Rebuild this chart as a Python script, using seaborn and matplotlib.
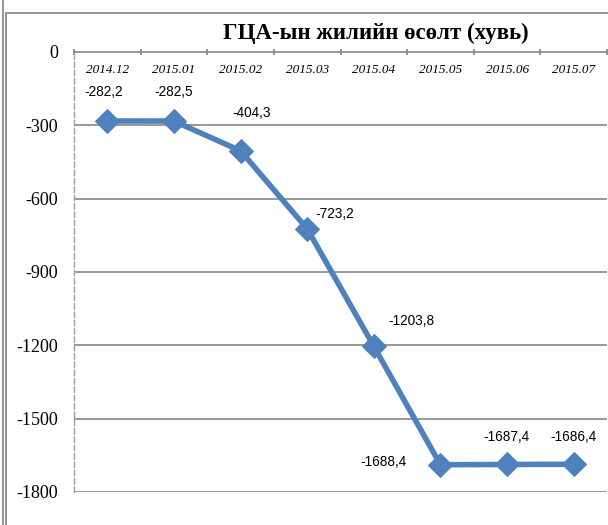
import numpy as np
import pandas as pd
import matplotlib
matplotlib.use('Agg')
import matplotlib.pyplot as plt
from matplotlib.lines import Line2D
import seaborn as sns

sns.set_style("white")
plt.rcParams['font.family'] = ['Liberation Serif', 'DejaVu Serif']
plt.rcParams['text.color'] = 'black'
plt.rcParams['xtick.color'] = 'black'
plt.rcParams['ytick.color'] = 'black'

# data
periods = ['2014.12', '2015.01', '2015.02', '2015.03', '2015.04', '2015.05', '2015.06', '2015.07']
growth = [-282.2, -282.5, -404.3, -723.2, -1203.8, -1688.4, -1687.4, -1686.4]
title = 'ГЦА-ын жилийн өсөлт (хувь)'

# label offsets in pixels (dx, dy)
label_offsets = [(-4, 29), (0, 29), (11, 38), (27, 15), (38, 25), (-57, 3), (-1, 27), (0, 27)]

df = pd.DataFrame({'period': periods, 'value': growth})

fig = plt.figure(figsize=(6.08, 5.25), dpi=100)
ax = fig.add_axes([74 / 608, 1 - 492 / 525, 533 / 608, 440 / 525])

line_color = '#4F81BD'
grid_color = '#868686'

sns.lineplot(data=df, x='period', y='value', ax=ax, color=line_color, linewidth=4,
             marker='D', markersize=12.5, markeredgecolor=line_color, sort=False)

ax.set_ylim(-1800, 0)
ax.set_xlim(-0.5, len(periods) - 0.5)
ax.set_yticks(np.arange(-1800, 1, 300))
ax.set_xlabel('')
ax.set_ylabel('')

# horizontal gridlines
for yv in np.arange(-1800, 0, 300):
    ax.axhline(yv, color=grid_color, linewidth=1.2, zorder=0)

# spines
for s in ['right', 'bottom']:
    ax.spines[s].set_visible(False)
ax.spines['top'].set_color(grid_color)
ax.spines['top'].set_linewidth(1.2)
ax.spines['left'].set_color('#A0A0A0')
ax.spines['left'].set_linestyle((0, (4, 2)))
ax.spines['left'].set_linewidth(1.0)

# x axis at the top, labels hanging inside the plot
ax.xaxis.tick_top()
ax.set_xticks(range(len(periods)))
ax.set_xticklabels(periods, fontsize=9.5, style='italic')
ax.tick_params(axis='x', length=0, pad=-17)
ax.set_xticks(np.arange(-0.5, len(periods), 1), minor=True)
ax.tick_params(axis='x', which='minor', length=5, direction='inout', color=grid_color, width=1.2)

ax.tick_params(axis='y', labelsize=13, length=4, direction='out', color=grid_color, width=1.2, pad=7.5)
ax.set_yticklabels([f'{int(t)}' for t in np.arange(-1800, 1, 300)])

# data labels
for i, v in enumerate(growth):
    dx, dy = label_offsets[i]
    ax.annotate(f'{v:.1f}'.replace('.', ','), (i, v), xytext=(dx, dy), textcoords='offset pixels',
                ha='center', va='center', fontsize=9.8,
                family=['Liberation Sans', 'DejaVu Sans'])

fig.text(376 / 608, 1 - 33 / 525, title, ha='center', va='center', fontsize=16.5, fontweight='bold')

# chart frame lines
fig.add_artist(Line2D([2.5 / 608, 2.5 / 608], [0, 1], color='#8C8C8C', linewidth=1.3))
fig.add_artist(Line2D([6 / 608, 6 / 608], [0, 1 - 13 / 525], color='#8C8C8C', linewidth=1.3))
fig.add_artist(Line2D([6 / 608, 1], [1 - 13 / 525, 1 - 13 / 525], color='#8C8C8C', linewidth=1.3))

fig.savefig('out.png', dpi=100)
